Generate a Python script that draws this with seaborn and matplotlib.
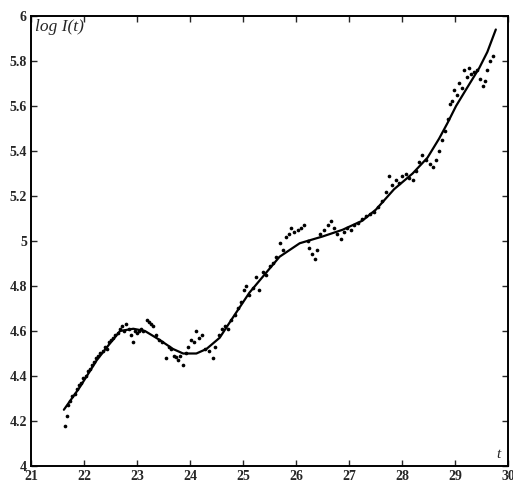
import numpy as np
import pandas as pd
import matplotlib
matplotlib.use("Agg")
import matplotlib.pyplot as plt
import seaborn as sns

# smooth fitted curve
fit_t = [21.62, 21.92, 22.24, 22.49, 22.68, 22.93, 23.15, 23.43, 23.68, 23.87,
         24.12, 24.31, 24.56, 24.81, 25.12, 25.44, 25.69, 26.07, 26.50, 26.88,
         27.25, 27.51, 27.85, 28.20, 28.48, 28.70, 28.86, 29.02, 29.20, 29.46,
         29.61, 29.77]
fit_y = [4.25, 4.35, 4.47, 4.545, 4.60, 4.61, 4.60, 4.56, 4.52, 4.50,
         4.50, 4.52, 4.57, 4.66, 4.77, 4.86, 4.93, 4.99, 5.02, 5.05,
         5.09, 5.14, 5.23, 5.30, 5.37, 5.455, 5.525, 5.60, 5.67, 5.77,
         5.84, 5.94]

# observed points
obs_t = [21.64, 21.67, 21.69, 21.74, 21.78, 21.83, 21.87, 21.91, 21.95, 21.99,
         22.03, 22.07, 22.11, 22.15, 22.19, 22.23, 22.27, 22.31, 22.35, 22.39,
         22.43, 22.47, 22.51, 22.55, 22.59, 22.64, 22.68, 22.72, 22.76, 22.80,
         22.84, 22.88, 22.92, 22.96, 23.00, 23.04, 23.08, 23.12, 23.18, 23.22,
         23.26, 23.30, 23.36, 23.42, 23.48, 23.55, 23.60, 23.65, 23.70, 23.74,
         23.78, 23.82, 23.87, 23.92, 23.97, 24.02, 24.07, 24.12, 24.17, 24.22,
         24.28, 24.35, 24.43, 24.48, 24.55, 24.60, 24.66, 24.72, 24.78, 24.84,
         24.90, 24.96, 25.02, 25.06, 25.12, 25.18, 25.25, 25.31, 25.37, 25.43,
         25.50, 25.56, 25.62, 25.69, 25.75, 25.81, 25.86, 25.91, 25.97, 26.03,
         26.10, 26.16, 26.22, 26.25, 26.30, 26.35, 26.40, 26.46, 26.52, 26.60,
         26.66, 26.72, 26.78, 26.84, 26.90, 26.97, 27.03, 27.10, 27.17, 27.25,
         27.32, 27.40, 27.48, 27.55, 27.62, 27.70, 27.76, 27.82, 27.88, 27.94,
         28.00, 28.07, 28.14, 28.20, 28.27, 28.33, 28.38, 28.45, 28.52, 28.58,
         28.64, 28.70, 28.76, 28.82, 28.86, 28.90, 28.95, 28.99, 29.04, 29.08,
         29.13, 29.17, 29.22, 29.26, 29.31, 29.36, 29.42, 29.47, 29.52, 29.56,
         29.60, 29.66, 29.71]
obs_y = [4.18, 4.22, 4.27, 4.29, 4.31, 4.32, 4.34, 4.36, 4.37, 4.39,
         4.40, 4.42, 4.43, 4.45, 4.46, 4.48, 4.49, 4.50, 4.51, 4.53,
         4.52, 4.55, 4.56, 4.57, 4.58, 4.59, 4.61, 4.62, 4.60, 4.63,
         4.61, 4.58, 4.55, 4.60, 4.59, 4.60, 4.61, 4.60, 4.65, 4.64,
         4.63, 4.62, 4.58, 4.56, 4.55, 4.48, 4.53, 4.52, 4.49, 4.485,
         4.47, 4.49, 4.45, 4.50, 4.53, 4.56, 4.55, 4.60, 4.57, 4.58,
         4.52, 4.51, 4.48, 4.53, 4.58, 4.61, 4.62, 4.61, 4.65, 4.67,
         4.70, 4.73, 4.78, 4.80, 4.76, 4.79, 4.84, 4.78, 4.86, 4.85,
         4.89, 4.90, 4.93, 4.99, 4.96, 5.02, 5.03, 5.06, 5.04, 5.05,
         5.06, 5.07, 5.00, 4.97, 4.94, 4.92, 4.96, 5.03, 5.05, 5.07,
         5.09, 5.06, 5.03, 5.01, 5.04, 5.06, 5.05, 5.07, 5.08, 5.10,
         5.11, 5.12, 5.13, 5.15, 5.18, 5.22, 5.29, 5.25, 5.27, 5.26,
         5.29, 5.30, 5.28, 5.27, 5.31, 5.35, 5.38, 5.36, 5.34, 5.33,
         5.36, 5.40, 5.45, 5.49, 5.54, 5.61, 5.62, 5.67, 5.65, 5.70,
         5.68, 5.76, 5.73, 5.77, 5.74, 5.75, 5.76, 5.72, 5.69, 5.71,
         5.76, 5.80, 5.82]

x_ticks = [21, 22, 23, 24, 25, 26, 27, 28, 29, 30]
y_ticks = [4.0, 4.2, 4.4, 4.6, 4.8, 5.0, 5.2, 5.4, 5.6, 5.8, 6.0]
y_labels = ["4", "4.2", "4.4", "4.6", "4.8", "5", "5.2", "5.4", "5.6", "5.8", "6"]

fit_df = pd.DataFrame({"t": fit_t, "logI": fit_y})
obs_df = pd.DataFrame({"t": obs_t, "logI": obs_y})

sns.set_style("ticks")
plt.rcParams["font.family"] = ["Liberation Serif", "DejaVu Serif"]

fig = plt.figure(figsize=(5.13, 4.86), dpi=100)
ax = fig.add_axes([31 / 513, 20 / 486, 477 / 513, 450 / 486])

sns.scatterplot(data=obs_df, x="t", y="logI", ax=ax, color="black", s=7,
                linewidth=0, legend=False)
sns.lineplot(data=fit_df, x="t", y="logI", ax=ax, color="black", linewidth=1.6,
             sort=True)

ax.set_xlim(21, 30)
ax.set_ylim(4, 6)
ax.set_xticks(x_ticks)
ax.set_xticklabels([str(v) for v in x_ticks])
ax.set_yticks(y_ticks)
ax.set_yticklabels(y_labels)
ax.set_xlabel("")
ax.set_ylabel("")
ax.tick_params(direction="in", top=True, right=True, length=4, width=1,
               labelsize=10, pad=3)
for lab in ax.get_xticklabels() + ax.get_yticklabels():
    lab.set_fontweight("bold")
for sp in ax.spines.values():
    sp.set_linewidth(1.4)
    sp.set_color("black")

ax.text(0.008, 0.993, "log I(t)", transform=ax.transAxes, ha="left", va="top",
        fontsize=12.5, fontstyle="italic")
ax.text(0.985, 0.012, "t", transform=ax.transAxes, ha="right", va="bottom",
        fontsize=11, fontstyle="italic")

fig.savefig("out.png", dpi=100)
